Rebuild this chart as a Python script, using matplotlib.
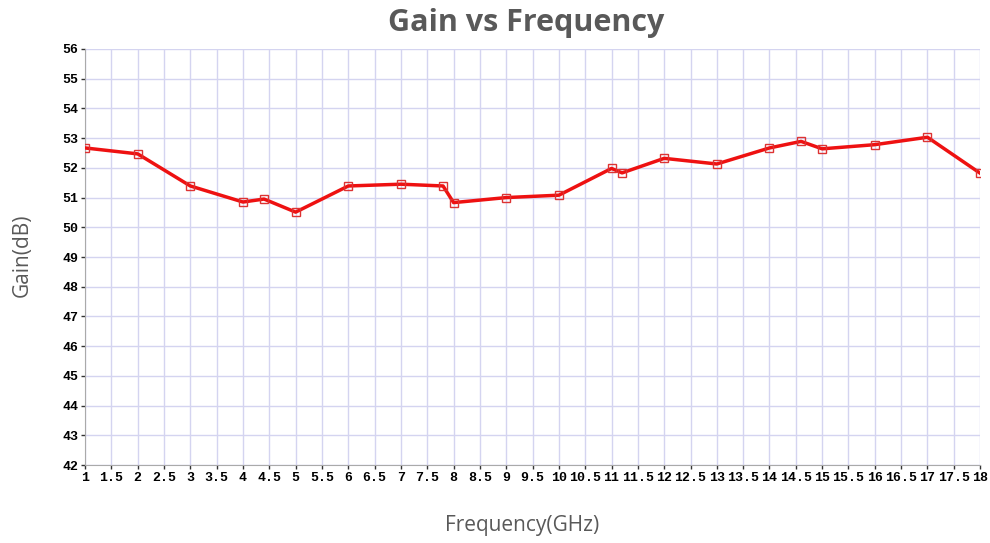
import matplotlib.pyplot as plt
import numpy as np

freq = [1, 2, 3, 4, 4.4, 5, 6, 7, 7.8, 8, 9, 10, 11, 11.2, 12, 13, 14, 14.6, 15, 16, 17, 18]
gain = [52.67, 52.47, 51.39, 50.85, 50.95, 50.51, 51.39, 51.45, 51.39, 50.83, 51.0, 51.08,
        51.98, 51.83, 52.32, 52.13, 52.67, 52.89, 52.64, 52.78, 53.03, 51.82]
xticks = np.arange(1, 18.01, 0.5)
yticks = np.arange(42, 57, 1)

fig = plt.figure(figsize=(9.9, 5.43), dpi=100)
ax = fig.add_axes([0.0859, 0.1436, 0.9041, 0.7662])

ax.plot(freq, gain, color='#ee1111', lw=2.5, marker='s', ms=6,
        mfc='none', mec='#dd3333', mew=1.0, zorder=3)

ax.set_xlim(1, 18)
ax.set_ylim(42, 56)
ax.set_xticks(xticks)
ax.set_xticklabels(['%g' % v for v in xticks])
ax.set_yticks(yticks)
ax.grid(True, color='#d4d4f0', lw=1)
ax.set_axisbelow(True)
for s in ['top', 'right']:
    ax.spines[s].set_visible(False)
for s in ['left', 'bottom']:
    ax.spines[s].set_color('#aaaaaa')
ax.tick_params(direction='out', length=3, width=1, color='#333333', pad=2)
for lbl in ax.get_xticklabels() + ax.get_yticklabels():
    lbl.set_family('Liberation Mono')
    lbl.set_fontweight('bold')
    lbl.set_fontsize(9.5)

fig.suptitle('Gain vs Frequency', x=0.532, y=0.985, fontsize=22, fontweight='bold',
             color='#595959', family='Open Sans')
fig.text(0.527, 0.022, 'Frequency(GHz)', ha='center', fontsize=15, color='#595959', family='Open Sans')
fig.text(0.022, 0.53, 'Gain(dB)', rotation=90, va='center', ha='center', fontsize=15,
         color='#595959', family='Open Sans')

fig.savefig('out.png')
